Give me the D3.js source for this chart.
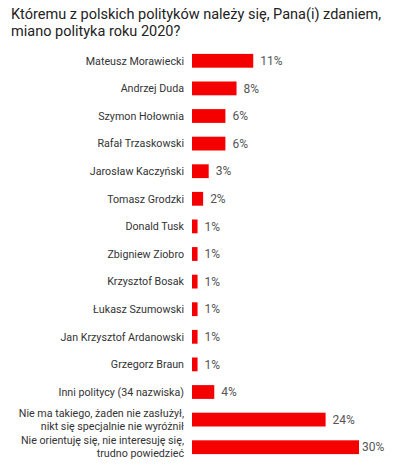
<!DOCTYPE html>
<html>
<head>
<meta charset="utf-8">
<script src="https://cdn.jsdelivr.net/npm/d3@7"></script>
<style>
  body { margin: 0; background: #fff; }
  text { font-family: Roboto, "Noto Sans", sans-serif; }
</style>
</head>
<body>
<svg width="396" height="472"></svg>
<script>
var titleLines = ["Któremu z polskich polityków należy się, Pana(i) zdaniem,", "miano polityka roku 2020?"];

var categories = [
  ["Mateusz Morawiecki"],
  ["Andrzej Duda"],
  ["Szymon Hołownia"],
  ["Rafał Trzaskowski"],
  ["Jarosław Kaczyński"],
  ["Tomasz Grodzki"],
  ["Donald Tusk"],
  ["Zbigniew Ziobro"],
  ["Krzysztof Bosak"],
  ["Łukasz Szumowski"],
  ["Jan Krzysztof Ardanowski"],
  ["Grzegorz Braun"],
  ["Inni politycy (34 nazwiska)"],
  ["Nie ma takiego, żaden nie zasłużył,", "nikt się specjalnie nie wyróżnił"],
  ["Nie orientuję się, nie interesuję się,", "trudno powiedzieć"]
];
var values = [11, 8, 6, 6, 3, 2, 1, 1, 1, 1, 1, 1, 4, 24, 30];

var svg = d3.select("svg"),
    W = +svg.attr("width"),
    margin = { top: 47, left: 192, bottom: 11 },
    H = +svg.attr("height");

var data = values.map(function (v, i) { return { key: i, lines: categories[i], value: v }; });

svg.append("g").attr("font-size", 14.5).attr("fill", "#222")
  .selectAll("text").data(titleLines).enter().append("text")
  .attr("x", 11).attr("y", function (d, i) { return 18.5 + i * 17; })
  .text(function (d) { return d; });

var y = d3.scaleBand().domain(data.map(function (d) { return d.key; }))
  .range([margin.top, H - margin.bottom]).paddingInner(0.5).paddingOuter(0.25);

var x = d3.scaleLinear().domain([0, 30]).range([margin.left, margin.left + 167]);

var row = svg.append("g").selectAll("g").data(data).enter().append("g")
  .attr("transform", function (d) { return "translate(0," + y(d.key) + ")"; });

row.append("rect")
  .attr("x", x(0))
  .attr("width", function (d) { return x(d.value) - x(0); })
  .attr("height", y.bandwidth())
  .attr("fill", "#f50000");

var lab = row.append("text")
  .attr("x", margin.left - 8)
  .attr("text-anchor", "end")
  .attr("font-size", 10.7)
  .attr("fill", "#333");

lab.selectAll("tspan").data(function (d) { return d.lines; }).enter().append("tspan")
  .attr("x", margin.left - 8)
  .attr("y", function (d, i) {
    var n = d3.select(this.parentNode).datum().lines.length;
    return y.bandwidth() / 2 + (i - (n - 1) / 2) * 13;
  })
  .attr("dy", "0.35em")
  .text(function (d) { return d; });

row.append("text")
  .attr("x", function (d) { return Math.min(x(d.value) + 7, W - 34); })
  .attr("y", y.bandwidth() / 2)
  .attr("dy", "0.35em")
  .attr("font-size", 12)
  .attr("fill", "#555")
  .text(function (d) { return d.value + "%"; });
</script>
</body>
</html>
